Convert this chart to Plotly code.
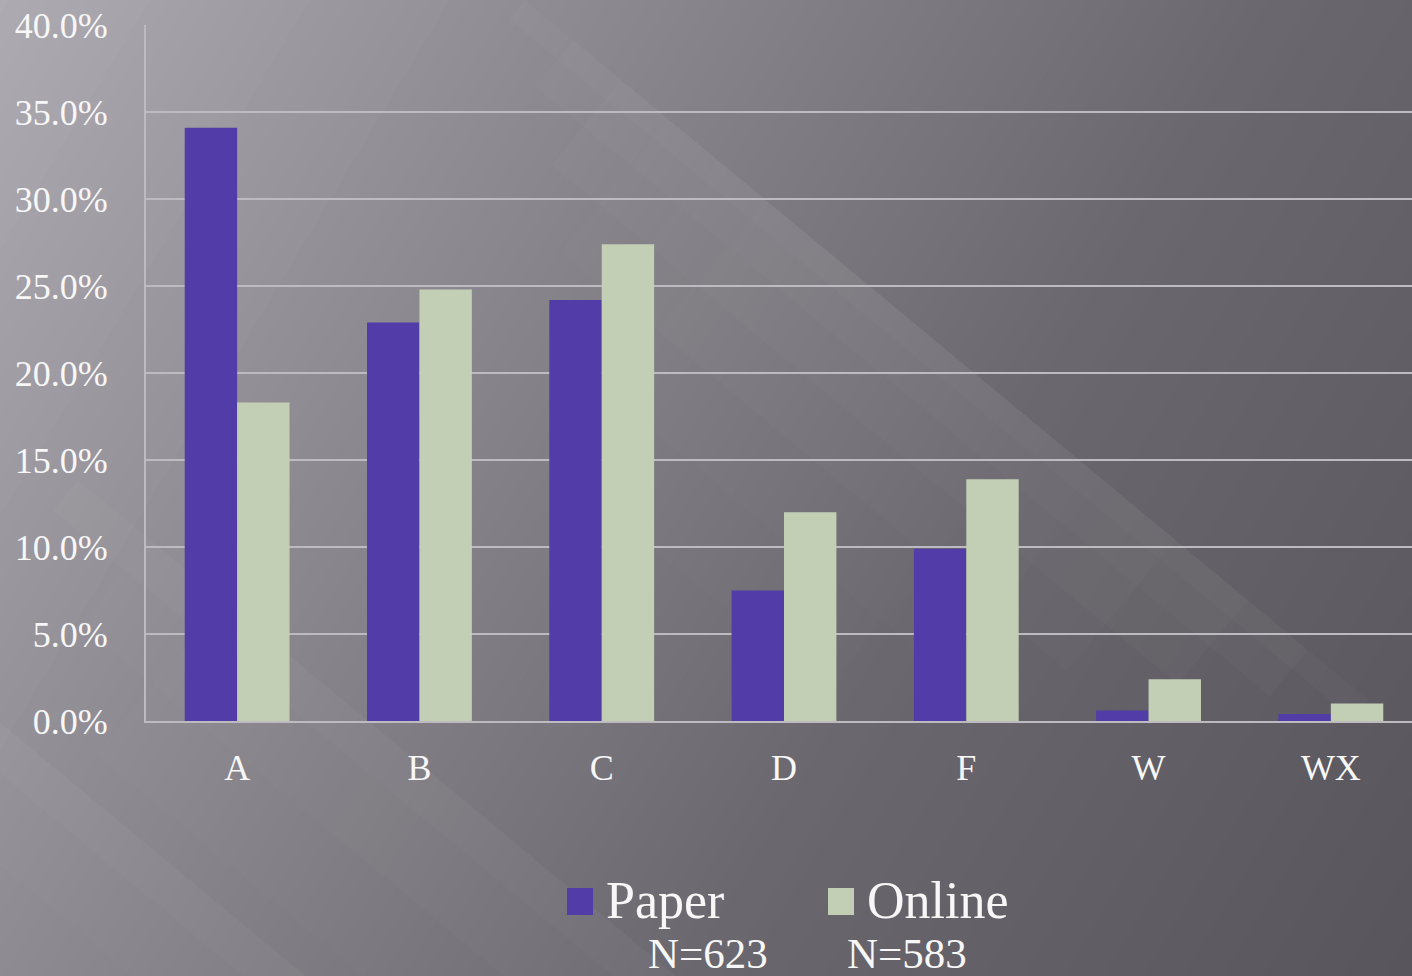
import math
import plotly.graph_objects as go

# ---------------- data ----------------
categories = ["A", "B", "C", "D", "F", "W", "WX"]
paper_pct = [34.1, 22.9, 24.2, 7.5, 9.9, 0.6, 0.4]
online_pct = [18.3, 24.8, 27.4, 12.0, 13.9, 2.4, 1.0]
series_names = ["Paper", "Online"]
sample_sizes = ["N=623", "N=583"]
y_tick_vals = [0, 5, 10, 15, 20, 25, 30, 35, 40]

# ---------------- style ----------------
PAPER_COLOR = "#513ca8"
ONLINE_COLOR = "#c3cfb5"
GRID_COLOR = "#bdbbc0"
TEXT_COLOR = "#f7f7f7"
FONT = "Liberation Serif, Times New Roman, serif"

# the plot area runs a little past the right edge of the 1412 px window
W, H = 1422, 976
L, R, T, B = 146, 0, 25, 255
PW = W - L - R
PH = H - T - B


def px(x):
    return (x - L) / PW


def py(y):
    return (H - B - y) / PH


def path(points):
    return "M " + " L ".join(f"{px(x):.5f},{py(y):.5f}" for x, y in points) + " Z"


shapes = []

# background diagonal gradient (light top-left, dark bottom-right)
stops = [(-100, 176), (0, 174), (600, 140), (1300, 106), (2000, 88), (2300, 86)]


def bright(d):
    for (d0, b0), (d1, b1) in zip(stops[:-1], stops[1:]):
        if d0 <= d <= d1:
            return b0 + (b1 - b0) * (d - d0) / (d1 - d0)
    return stops[-1][1]


step = 20
d = -50
while d < 2060:
    d0, d1 = d, d + step
    b = bright((d0 + d1) / 2)
    col = f"rgb({int(b)},{int(b - 3)},{int(b + 4)})"
    pts = [(d0 + 12, -20), (d1 + 13, -20), (d1 + 1 - 600, 1000), (d0 - 600, 1000)]
    shapes.append(dict(type="path", path=path(pts), xref="paper", yref="paper",
                       fillcolor=col, line=dict(width=0), layer="below"))
    d += step

# diagonal light streaks: edge line x = x0 + y/slope; light falls on lower-left side
slope = 0.83
ux, uy = 1 / math.hypot(1, slope), slope / math.hypot(1, slope)
nx_, ny_ = -uy, ux
streaks = [
    (525, [(25, 0.02, 0, 700), (60, 0.02, 40, 650), (110, 0.02, 80, 600),
           (170, 0.015, 120, 540), (250, 0.012, 160, 480), (340, 0.01, 200, 430)]),
    (-500, [(40, 0.018, 480, 1100), (110, 0.014, 540, 1100), (200, 0.01, 600, 1100)]),
    (-870, [(40, 0.018, 620, 1100), (110, 0.014, 660, 1100), (200, 0.01, 700, 1100)]),
]
for x0, layers in streaks:
    for w, op, ya, yb in layers:
        ax, ay = x0 + ya / slope, ya
        bx, by = x0 + yb / slope, yb
        pts = [(ax, ay), (bx, by), (bx + w * nx_, by + w * ny_), (ax + w * nx_, ay + w * ny_)]
        shapes.append(dict(type="path", path=path(pts), xref="paper", yref="paper",
                           fillcolor="white", opacity=op, line=dict(width=0), layer="below"))

fig = go.Figure()
fig.add_trace(go.Bar(name=series_names[0], x=categories, y=paper_pct,
                     marker=dict(color=PAPER_COLOR, line=dict(width=0))))
fig.add_trace(go.Bar(name=series_names[1], x=categories, y=online_pct,
                     marker=dict(color=ONLINE_COLOR, line=dict(width=0))))

# manual legend
legend_items = [
    (series_names[0], PAPER_COLOR, 567, sample_sizes[0], 646),
    (series_names[1], ONLINE_COLOR, 828, sample_sizes[1], 845),
]
annotations = []
for name, col, sx, ntext, nx in legend_items:
    shapes.append(dict(type="rect", xref="paper", yref="paper",
                       x0=px(sx), x1=px(sx + 26), y0=py(915), y1=py(888),
                       fillcolor=col, line=dict(width=0), layer="above"))
    annotations.append(dict(text=name, x=px(sx + 37), y=py(900), xref="paper", yref="paper",
                            xanchor="left", yanchor="middle", showarrow=False,
                            font=dict(size=52, color=TEXT_COLOR, family=FONT)))
    annotations.append(dict(text=ntext, x=px(nx), y=py(953), xref="paper", yref="paper",
                            xanchor="left", yanchor="middle", showarrow=False,
                            font=dict(size=43, color=TEXT_COLOR, family=FONT)))

fig.update_layout(
    width=W, height=H,
    margin=dict(l=L, r=R, t=T, b=B, pad=0),
    paper_bgcolor="#6a676e",
    plot_bgcolor="rgba(0,0,0,0)",
    barmode="group",
    bargap=0.425,
    bargroupgap=0,
    showlegend=False,
    shapes=shapes,
    annotations=annotations,
    font=dict(family=FONT, color=TEXT_COLOR, size=36),
)
fig.update_yaxes(
    range=[0, 40], tickvals=y_tick_vals,
    ticktext=[f"{v:.1f}%" for v in y_tick_vals],
    showgrid=True, gridcolor=GRID_COLOR, gridwidth=2,
    showline=True, linecolor=GRID_COLOR, linewidth=2,
    zeroline=False, ticks="", ticklabelstandoff=29,
    tickfont=dict(size=36, color=TEXT_COLOR, family=FONT),
)
fig.update_xaxes(
    showgrid=False, showline=True, linecolor=GRID_COLOR, linewidth=2,
    ticks="", ticklabelstandoff=14,
    tickfont=dict(size=36, color=TEXT_COLOR, family=FONT),
)

fig.write_html("out.html",
               config={"displayModeBar": False},
               post_script="document.body.style.margin='0px';document.body.style.overflow='hidden';")
